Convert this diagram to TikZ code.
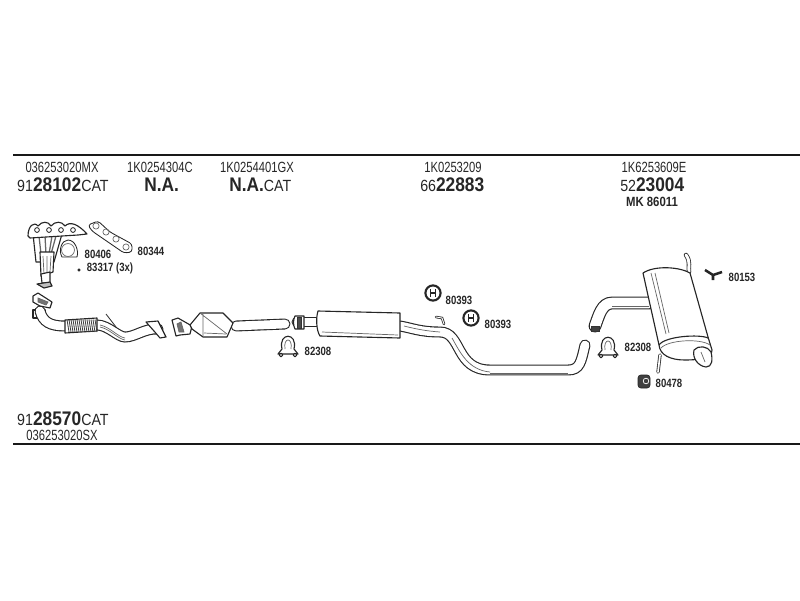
\documentclass[tikz,border=0pt]{standalone}
\usepackage{fontspec}
\setmainfont{Liberation Sans}
\tikzset{
  partno/.style={font=\fontsize{10.5}{12}\selectfont, text=black!85, xscale=0.76, inner sep=0pt},
  bignum/.style={font=\fontsize{11.5}{13}\selectfont, text=black!85, xscale=0.88, inner sep=0pt, anchor=west},
  smallno/.style={font=\fontsize{8.5}{10}\selectfont\bfseries, text=black!85, xscale=0.8, inner sep=0pt},
  rail/.style={line width=1.3pt, black!90},
  part/.style={draw=black!85, line width=0.8pt, fill=white, line join=round},
  detail/.style={draw=black!60, line width=0.5pt},
  tube/.style={draw=black!85, line width=0.8pt, double=white, double distance=6.2pt, line cap=round},
  thintube/.style={draw=black!80, line width=0.6pt, double=white, double distance=2pt, line cap=round},
  clamp/.pic={
    \draw[part] (-10,9) -- (-6,4) .. controls (-10,-13) and (10,-13) .. (6,4) -- (10,9) -- cycle;
    \draw[detail] (-3,4) .. controls (-5,-8) and (5,-8) .. (3,4);
    \draw[part] (-7,10) circle[radius=1.3pt] (7,10) circle[radius=1.3pt];
  },
  hring/.pic={
    \draw[black!85, line width=1.5pt, fill=white] (0,0) circle[radius=5.4pt];
    \draw[black!85, line width=1pt] (-2.5,-4) -- (-2.5,4) (2.5,-4) -- (2.5,4) (-2.5,0) -- (2.5,0);
  }
}
\begin{document}
\begin{tikzpicture}[x=0.025cm,y=-0.025cm]
\useasboundingbox (0,0) rectangle (800,600);
% rails
\coordinate (topl) at (13,155);
\coordinate (topr) at (800,155);
\coordinate (botl) at (13,444);
\coordinate (botr) at (800,444);
\draw[rail] (topl) -- (topr);
\draw[rail] (botl) -- (botr);

% header texts
\node[partno] (ptone) at (62,167) {036253020MX};
\node[partno] (pttwo) at (160,167) {1K0254304C};
\node[partno] (ptthree) at (257,167) {1K0254401GX};
\node[partno] (ptfour) at (453,167) {1K0253209};
\node[partno] (ptfive) at (654,167) {1K6253609E};
\node[bignum] (numone) at (17,185) {91{\fontsize{14}{16}\selectfont\bfseries 28102}CAT};
\node[bignum, font=\fontsize{14}{16}\selectfont\bfseries] (natwo) at (144,185) {N.A.};
\node[bignum] (nathree) at (229,185) {{\fontsize{14}{16}\selectfont\bfseries N.A.}CAT};
\node[bignum] (numfour) at (420,185) {66{\fontsize{14}{16}\selectfont\bfseries 22883}};
\node[bignum] (numfive) at (620,185) {52{\fontsize{14}{16}\selectfont\bfseries 23004}};
\node[font=\fontsize{9.5}{11}\selectfont\bfseries, xscale=0.85, inner sep=0pt, text=black!85] (mk) at (652,202) {MK 86011};
\node[bignum] (numdown) at (17,419) {91{\fontsize{14}{16}\selectfont\bfseries 28570}CAT};
\node[partno] (ptdown) at (62,435) {036253020SX};

% small labels
\node[smallno] (lbgasket) at (98,254) {80406};
\node[smallno] (lbbolt) at (110,268) {83317 (3x)};
\node[smallno] (lbplate) at (151,251) {80344};
\node[smallno] (lbclampa) at (318,351) {82308};
\node[smallno] (lbringa) at (459,300) {80393};
\node[smallno] (lbringb) at (498,324) {80393};
\node[smallno] (lbclampb) at (638,347) {82308};
\node[smallno] (lbwing) at (742,277) {80153};
\node[smallno] (lbblock) at (669,383) {80478};

% manifold with catalyst
\draw[part] (33,234) -- (36,262) -- (39,262) -- (54,262) -- (62,234) -- cycle;
\draw[detail, line width=0.9pt] (39,236) -- (41,254) (45,236) -- (46,254) (52,236) -- (49,254) (56,236) -- (51,254);
\draw[part] (40,252) -- (54,252) -- (53,272) -- (41,276) -- cycle;
\draw[detail] (43,256) -- (44,274) (47,256) -- (47,274) (51,256) -- (50,272);
\draw[part] (41,274) -- (50,272) -- (50,283) -- (42,283) -- cycle;
\draw[part, fill=black!25] (37,284) -- (50,282) -- (52,286) -- (44,288) -- cycle;
\draw[part] (28,236) .. controls (28,226) and (34,221) .. (38,226) .. controls (42,221) and (48,221) .. (51,226)
  .. controls (55,221) and (62,221) .. (65,226) .. controls (70,221) and (78,224) .. (87,234)
  -- (78,235) -- (30,238) -- cycle;
\foreach \bx in {37,49,61,73}
  \draw[black!85, line width=0.6pt] (\bx,230) circle[radius=1.7pt];

% gasket and plate
\draw[part, line width=0.6pt] (68,240) .. controls (75,240) and (79,250) .. (77,257) -- (62,257) .. controls (58,250) and (62,240) .. (68,240) -- cycle;
\draw[detail] (68,250) circle[radius=4.6pt];
\draw[black!85, fill=black!85] (79,270) circle[radius=0.9pt];
\draw[part, line width=0.6pt, rounded corners=2pt] (88,225) -- (98,221) -- (110,232) -- (132,244) -- (132,252) -- (124,253) -- (92,231) -- cycle;
\foreach \px/\py in {96/226, 106/232, 116/239, 126/247}
  \draw[detail] (\px,\py) circle[radius=2.2pt];

% front pipe
\draw[part] (33,310) rectangle (45,318);
\draw[part] (33,296) -- (38,293) -- (52,302) -- (50,308) -- (40,306) -- (33,302) -- cycle;
\draw[detail, fill=black!55] (38,298) -- (48,302) -- (46,305) -- (38,302) -- cycle;
\draw[tube] (40,311) .. controls (43,322) and (50,326) .. (65,326);
\draw[tube] (97,325) .. controls (108,325) and (118,337) .. (125,337) .. controls (135,337) and (145,328) .. (158,329);
\draw[detail] (100,325) .. controls (110,327) and (118,337) .. (125,338);
\draw[detail] (100,327) .. controls (110,329) and (118,339) .. (125,340);
\draw[black!80, line width=0.6pt] (106,314) -- (116,327);
\draw[part] (146,322) -- (158,321) -- (166,337) -- (160,338) -- (154,331) -- cycle;
\draw[part] (65,320) -- (97,318) -- (97,331) -- (65,333) -- cycle;
\foreach \fx in {67,69,...,95}
  \draw[black!75, line width=0.6pt] (\fx,319.5) -- (\fx+2,332);

% catalyst with tail
\draw[tube] (236,326) -- (285,324);
\draw[part] (172,320) -- (178,318) -- (192,326) -- (190,334) -- (180,335) -- (176,336) -- cycle;
\draw[detail, fill=black!55] (177,324) -- (181,322) -- (184,332) -- (179,332) -- cycle;
\draw[part] (190,325) -- (200,313) -- (223,313) -- (233,323) -- (227,337) -- (203,337) -- (192,329) -- cycle;
\draw[detail] (203,314) -- (203,336) (200,313) -- (227,334);
\draw[detail] (204,333) -- (226,334);

% clamps and rings
\pic (clampa) at (288,345) {clamp};
\pic (clampb) at (608,346) {clamp};
\pic (ringa) at (433,293) {hring};
\pic (ringb) at (471,318) {hring};

% middle silencer and pipe
\draw[tube] (297,322) -- (320,322);
\draw[part] (295,316) -- (304,316) -- (304,329) -- (295,329) .. controls (293,325) and (293,320) .. (295,316) -- cycle;
\draw[black!80, fill=black!70] (297,317) rectangle (301,328);
\draw[tube] (400,326) .. controls (412,328) and (420,332) .. (440,332) .. controls (462,332) and (455,370) .. (490,370)
  -- (568,370) .. controls (580,370) and (581,362) .. (585,345);
\draw[detail] (404,326) .. controls (416,329) and (426,331) .. (440,332);
\draw[detail] (452,338) .. controls (460,352) and (468,370) .. (490,372);
\draw[detail] (490,373) -- (568,373);
\draw[thintube, double distance=0.6pt] (436,317) -- (442,318) -- (444,324);
\draw[part] (318,311) -- (400,313) -- (400,338) -- (320,336) .. controls (316,330) and (316,317) .. (318,311) -- cycle;
\draw[detail] (322,332) -- (398,335);

% rear silencer
\draw[thintube] (686,255) .. controls (691,262) and (688,267) .. (689,272);
\draw[tube, double distance=7.5pt] (649,303) -- (612,303) .. controls (602,303) and (599,315) .. (595,326);
\draw[detail] (612,306) -- (649,306);
\draw[black!80, fill=black!75] (591,326) rectangle (599,331);
\draw[part] (643,273) .. controls (655,265) and (680,267) .. (690,273) -- (708,337) -- (712,350)
  .. controls (712,358) and (700,360) .. (685,360) .. controls (670,360) and (660,355) .. (659,345) -- cycle;
\draw[detail] (651,273) -- (666,334) (655,273) -- (669,333);
\draw[part] (659,345) .. controls (665,336) and (700,334) .. (708,338);
\draw[detail] (661,348) .. controls (668,340) and (700,338) .. (710,345);
\draw[thintube, double distance=1.2pt] (660,355) -- (658,372);
\draw[part] (694,350) .. controls (698,345) and (708,346) .. (711,352) .. controls (713,360) and (712,367) .. (706,367)
  .. controls (698,366) and (692,358) .. (694,350) -- cycle;
\draw[detail] (701,352) -- (705,362);

% small hardware
\draw[black!85, line width=1.8pt] (705,270) -- (713,275) -- (722,272) (713,275) -- (713,280);
\draw[black!85, fill=black!75, rounded corners=2pt] (638,375) rectangle (650,388);
\draw[white, line width=0.5pt] (646,381) circle[radius=2pt];
\end{tikzpicture}
\end{document}
